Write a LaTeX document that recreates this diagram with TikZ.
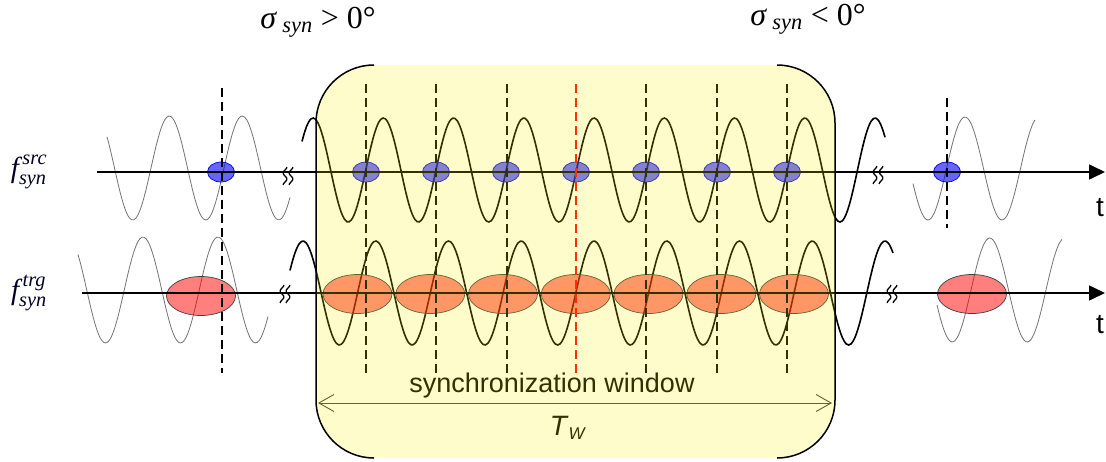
\documentclass[tikz,border=0pt]{standalone}
\usepackage{amsmath}
\usepackage{fontspec}
\setmainfont{Liberation Serif}
\setsansfont{Liberation Sans}
\usetikzlibrary{arrows.meta, shapes.geometric}

\tikzset{
  brk/.pic={
    \foreach \dx in {-3,3}
      \draw[line width=1.3pt] plot[domain=-9:9, samples=25, smooth] ({\dx+1.8*sin(\x*30)}, \x);
  }
}

\begin{document}
\begin{tikzpicture}[x=1pt, y=-1pt,
    axis/.style={line width=1.6pt, -{Triangle[length=16pt, width=15pt]}},
    thinwave/.style={black!55, line width=0.8pt},
    thickwave/.style={black, line width=1.6pt},
    srcdot/.style={ellipse, draw=blue!85!black, line width=0.7pt, fill=blue,
                   fill opacity=0.6, minimum width=27pt, minimum height=20pt, inner sep=0pt},
    trgdot/.style={ellipse, draw=black!75, line width=0.7pt, fill=red,
                   fill opacity=0.5, minimum width=69pt, minimum height=39pt, inner sep=0pt},
    vline/.style={line width=1.6pt, dash pattern=on 9pt off 5pt},
    flbl/.style={font=\fontsize{29}{32}\selectfont, text=black!85!blue},
    siglbl/.style={font=\fontsize{32}{36}\selectfont},
    tlbl/.style={font=\sffamily\fontsize{28}{32}\selectfont},
    warr/.style={black!75, line width=0.9pt,
                 {Straight Barb[length=15pt, width=17pt]}-{Straight Barb[length=15pt, width=17pt]}}
]
\fill[white] (0,0) rectangle (1106,461);
\useasboundingbox (0,0) rectangle (1106,461);

% waves
\draw[thinwave] plot[domain=107:290, samples=90, smooth] (\x, {168-52*sin(((\x-224)/73)*360)});
\draw[thinwave] plot[domain=913:1035, samples=70, smooth] (\x, {168.5-51.5*sin(((\x-946.5)/74)*360)});
\draw[thinwave] plot[domain=78:268, samples=90, smooth] (\x, {290-53*sin(((\x-124.25)/75)*360)});
\draw[thinwave] plot[domain=937:1062, samples=70, smooth] (\x, {290-52*sin(((\x-971)/75)*360)});
\draw[thickwave] plot[domain=302:885, samples=260, smooth] (\x, {170-52*sin(((\x-295.5)/70.25)*360)});
\draw[thickwave] plot[domain=290:893, samples=260, smooth] (\x, {293-52*sin(((\x-284.8)/72.75)*360)});

% source / target samples
\node[srcdot] (s0) at (221,172) {};
\foreach \xx [count=\i] in {366,436,506,576,646,717,787}
  \node[srcdot] (s\i) at (\xx,172) {};
\node[srcdot] (s8) at (947,172) {};

\node[trgdot] (t0) at (201,296) {};
\foreach \xx [count=\i] in {357.5,430.3,503,575.8,648.5,721.3,794}
  \node[trgdot] (t\i) at (\xx,294) {};
\node[trgdot] (t8) at (972,294) {};

% time axes
\draw[axis] (97,172) -- (1105,172);
\draw[axis] (82,293) -- (1105,293);
\pic at (288,176) {brk};
\pic at (878,175) {brk};
\pic at (285,294) {brk};
\pic at (892,294) {brk};

% sampling instants
\draw[vline] (222,88) -- (222,373);
\foreach \xx/\cc in {366/black,436/black,507/black,576/red,646/black,717/black,787/black}
  \draw[vline, \cc] (\xx,84) -- (\xx,374);
\draw[vline] (947,98) -- (947,228);

% window
\coordinate (wl) at (318,403);
\coordinate (wr) at (832,403);
\draw[warr] (wl) -- (wr);
\node[font=\sffamily\fontsize{27}{30}\selectfont] (winlbl) at (552,386) {synchronization window};
\node[font=\sffamily\fontsize{28}{32}\selectfont] (tw) at (568,428)
  {\textit{T}\raisebox{-4pt}{\fontsize{17}{20}\selectfont\textit{W}}};

\fill[yellow, fill opacity=0.2, rounded corners=58pt] (316,65) rectangle (835,458);
\draw[line width=1.5pt, rounded corners=58pt] (374,65) -- (316,65) -- (316,458) -- (374,458);
\draw[line width=1.5pt, rounded corners=58pt] (777,65) -- (835,65) -- (835,458) -- (777,458);

% labels
\node[flbl] (fsrc) at (29,172) {$\textit{f}^{\,\textit{src}}_{\textit{syn}}$};
\node[flbl] (ftrg) at (29,293) {$\textit{f}^{\,\textit{trg}}_{\textit{syn}}$};
\node[siglbl] (sigpos) at (318,22) {\textit{σ}\,$_{\textit{syn}}$ > 0°};
\node[siglbl] (signeg) at (808,19) {\textit{σ}\,$_{\textit{syn}}$ < 0°};
\node[tlbl] (tsrc) at (1100,208) {t};
\node[tlbl] (ttrg) at (1100,325) {t};
\end{tikzpicture}
\end{document}
